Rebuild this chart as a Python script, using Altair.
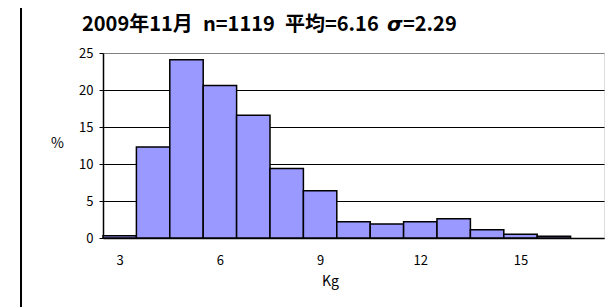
import altair as alt
import pandas as pd

kg = [3, 4, 5, 6, 7, 8, 9, 10, 11, 12, 13, 14, 15, 16]
pct = [0.3, 12.3, 24.1, 20.6, 16.6, 9.4, 6.4, 2.2, 1.9, 2.2, 2.6, 1.1, 0.5, 0.25]
x_ticks = [3, 6, 9, 12, 15]
y_ticks = [0, 5, 10, 15, 20, 25]
title_parts = ["2009年11月", "n=1119", "平均=6.16", "σ", "=2.29"]
title_x = [-21, 100, 182, 284, 300]
title_style = ["normal", "normal", "normal", "italic", "normal"]

df = pd.DataFrame({"kg": kg, "pct": pct})
tdf = pd.DataFrame({"t": title_parts, "px": title_x, "st": title_style})

font = "Noto Sans CJK JP"

bars = alt.Chart(df).transform_calculate(
    x0="datum.kg - 0.5", x1="datum.kg + 0.5"
).mark_rect(fill="#9999FF", stroke="black", strokeWidth=1.5).encode(
    x=alt.X("x0:Q", scale=alt.Scale(domain=[2.5, 17.5], nice=False, zero=False),
            axis=alt.Axis(values=x_ticks, title="Kg", grid=False, tickSize=0,
                          domainColor="black", domainWidth=1.5,
                          labelPadding=16, labelFontSize=13, labelFont=font,
                          labelColor="black", titleFont=font, titleFontSize=14,
                          titleFontWeight="normal", titleColor="black",
                          titleX=227, titleY=43, titleBaseline="middle")),
    x2="x1:Q",
    y=alt.Y("pct:Q", scale=alt.Scale(domain=[0, 25], nice=False),
            axis=alt.Axis(values=y_ticks, title="%", titleAngle=0,
                          titleX=-46, titleY=90, titleAlign="center",
                          titleBaseline="middle", titleFont=font, titleFontSize=14,
                          titleFontWeight="normal", titleColor="black",
                          grid=True,
                          gridColor=alt.condition("datum.value == 25", alt.value("#808080"), alt.value("black")),
                          gridWidth=1, tickSize=4, tickColor="black",
                          domainColor="black", domainWidth=1.5,
                          labelPadding=6, labelFontSize=13, labelFont=font,
                          labelColor="black")),
    y2=alt.datum(0),
)

frame = alt.Chart(df).mark_rule(color="black", strokeWidth=1.5, clip=False).encode(
    x=alt.value(-82), y=alt.value(-45), y2=alt.value(300)
)

title_norm = alt.Chart(tdf).transform_filter("datum.st == 'normal'").mark_text(
    align="left", baseline="alphabetic", fontSize=20, fontWeight="bold",
    font=font, color="black"
).encode(x=alt.X("px:Q", scale=None), y=alt.value(-22), text="t:N")

title_ital = alt.Chart(tdf).transform_filter("datum.st == 'italic'").mark_text(
    align="left", baseline="alphabetic", fontSize=20, fontWeight="bold",
    fontStyle="italic", font="DejaVu Sans", color="black"
).encode(x=alt.X("px:Q", scale=None), y=alt.value(-22), text="t:N")

chart = alt.layer(frame, bars, title_norm, title_ital).resolve_scale(x="independent").properties(
    width=501, height=185,
    padding={"left": 95, "top": 45, "right": 2, "bottom": 70},
    autosize=alt.AutoSizeParams(type="none"),
).configure_view(stroke="#808080", strokeWidth=1).configure(background="white")

chart.save("out.html", embed_options={"renderer": "svg", "actions": False})
